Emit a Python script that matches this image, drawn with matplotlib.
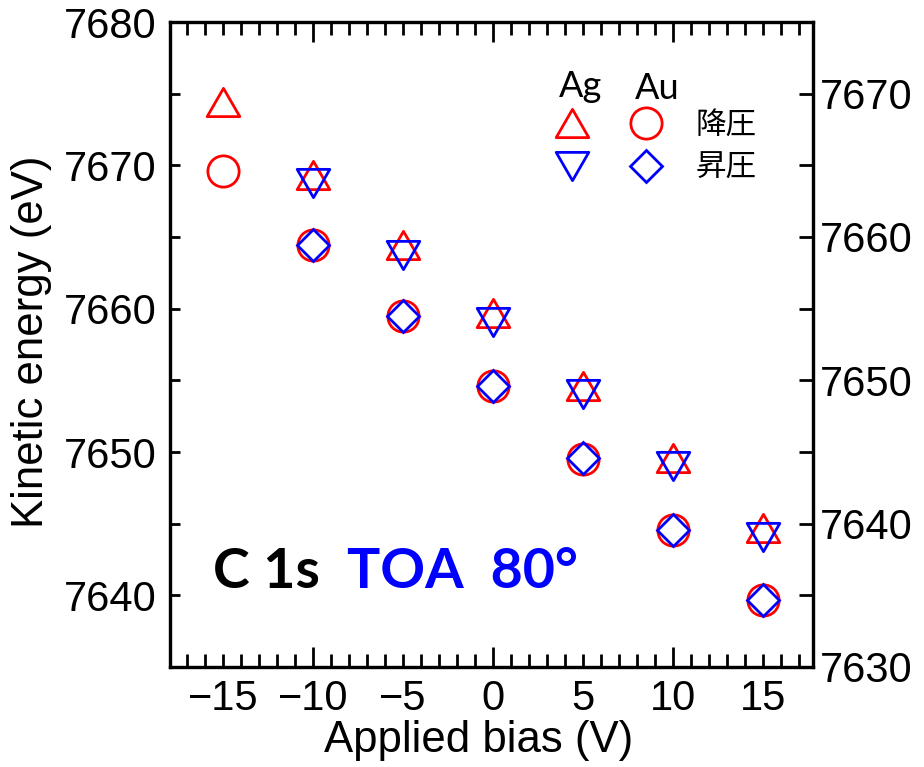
import matplotlib
matplotlib.use('Agg')
import matplotlib.pyplot as plt
from matplotlib.lines import Line2D
from matplotlib.path import Path
from matplotlib.ticker import MultipleLocator

# Bias sweep values (V)
bias_down = [-15, -10, -5, 0, 5, 10, 15]
bias_up = [-10, -5, 0, 5, 10, 15]

# Kinetic energy of C 1s (eV)
ag_down = [7674.45, 7669.3, 7664.45, 7659.7, 7654.6, 7649.6, 7644.7]
au_down = [7669.6, 7664.45, 7659.5, 7654.6, 7649.5, 7644.55, 7639.65]
ag_up = [7668.75, 7663.75, 7659.05, 7654.05, 7649.0, 7644.05]
au_up = [7664.45, 7659.5, 7654.6, 7649.55, 7644.55, 7639.65]

x_ticks = [-15, -10, -5, 0, 5, 10, 15]
x_labels = ['\u221215', '\u221210', '\u22125', '0', '5', '10', '15']

plt.rcParams['font.family'] = ['Liberation Sans', 'DejaVu Sans']

# equilateral triangles centred on their bounding box
tri_up = Path([(-1, -0.866), (1, -0.866), (0, 0.866), (-1, -0.866)],
              [Path.MOVETO, Path.LINETO, Path.LINETO, Path.CLOSEPOLY])
tri_dn = Path([(-1, 0.866), (1, 0.866), (0, -0.866), (-1, 0.866)],
              [Path.MOVETO, Path.LINETO, Path.LINETO, Path.CLOSEPOLY])

mew = 2.0
sty_ag_down = dict(ls='none', marker=tri_up, ms=23.5, mfc='none', mec='red', mew=mew)
sty_au_down = dict(ls='none', marker='o', ms=22.5, mfc='none', mec='red', mew=mew)
sty_ag_up = dict(ls='none', marker=tri_dn, ms=23.5, mfc='none', mec='blue', mew=mew)
sty_au_up = dict(ls='none', marker='D', ms=16, mfc='none', mec='blue', mew=mew)

fig = plt.figure(figsize=(9.24, 7.67), dpi=100)
ax = fig.add_axes([170 / 924, 1 - 667 / 767, 643 / 924, 645 / 767])

ax.plot(bias_down, ag_down, **sty_ag_down)
ax.plot(bias_down, au_down, **sty_au_down)
ax.plot(bias_up, ag_up, **sty_ag_up)
ax.plot(bias_up, au_up, **sty_au_up)

ax.set_xlim(-17.95, 17.8)
ax.set_ylim(7635, 7680)
ax.set_xticks(x_ticks)
ax.set_xticklabels(x_labels)
ax.xaxis.set_minor_locator(MultipleLocator(1))
ax.yaxis.set_major_locator(MultipleLocator(10))
ax.yaxis.set_minor_locator(MultipleLocator(5))

for sp in ax.spines.values():
    sp.set_linewidth(2.3)

ax.tick_params(axis='x', which='major', direction='in', top=True, bottom=True,
               length=14.4, width=2, labelsize=30, pad=8.5)
ax.tick_params(axis='x', which='minor', direction='in', top=True, bottom=True,
               length=9.4, width=2)
ax.tick_params(axis='y', which='both', direction='in', left=True, right=False,
               length=7.2, width=2)
ax.tick_params(axis='y', which='major', labelsize=30, pad=9.5)

# ticks at +-5 and +-15 are as short as the minor ones
for t, v in zip(ax.xaxis.get_major_ticks(), x_ticks):
    if v % 10 != 0:
        t.tick1line.set_markersize(9.4)
        t.tick2line.set_markersize(9.4)

ax2 = ax.twinx()
ax2.set_ylim(7630, 7675)
ax2.yaxis.set_major_locator(MultipleLocator(10))
ax2.yaxis.set_minor_locator(MultipleLocator(5))
ax2.tick_params(axis='y', which='both', direction='in', length=10, width=2)
ax2.tick_params(axis='y', which='major', labelsize=30, pad=5)
for sp in ax2.spines.values():
    sp.set_linewidth(2.3)

ax.set_xlabel('Applied bias (V)', fontsize=31.5)
ax.xaxis.set_label_coords(0.48, -0.082)
ax.set_ylabel('Kinetic energy (eV)', fontsize=31.5)
ax.yaxis.set_label_coords(-0.1835, 0.504)

ax.text(0.067, 0.1225, 'C 1s', transform=ax.transAxes, fontsize=40,
        family='Lato', fontweight='bold', color='black', va='baseline')
ax.text(0.275, 0.1225, 'TOA  80\u00b0', transform=ax.transAxes, fontsize=40,
        family='Lato', fontweight='bold', color='blue', va='baseline')

# legend: Ag column (no labels), Au column with 降圧 / 昇圧
handles = [Line2D([], [], **sty_ag_down), Line2D([], [], **sty_ag_up),
           Line2D([], [], **sty_au_down), Line2D([], [], **sty_au_up)]
leg = ax2.legend(handles, ['', '', '降圧', '昇圧'], ncol=2, frameon=False,
                 loc='upper left', bbox_to_anchor=(0.596, 0.864),
                 borderpad=0, borderaxespad=0, handlelength=1.2,
                 handletextpad=1.0, columnspacing=0.25, labelspacing=0.4,
                 prop={'family': ['Noto Sans CJK JP', 'DejaVu Sans'], 'size': 22})
ax.text(0.638, 0.883, 'Ag', transform=ax.transAxes, fontsize=26,
        family='Lato', ha='center', va='baseline')
ax.text(0.757, 0.881, 'Au', transform=ax.transAxes, fontsize=26,
        family='Lato', ha='center', va='baseline')

fig.savefig('out.png', dpi=100)
